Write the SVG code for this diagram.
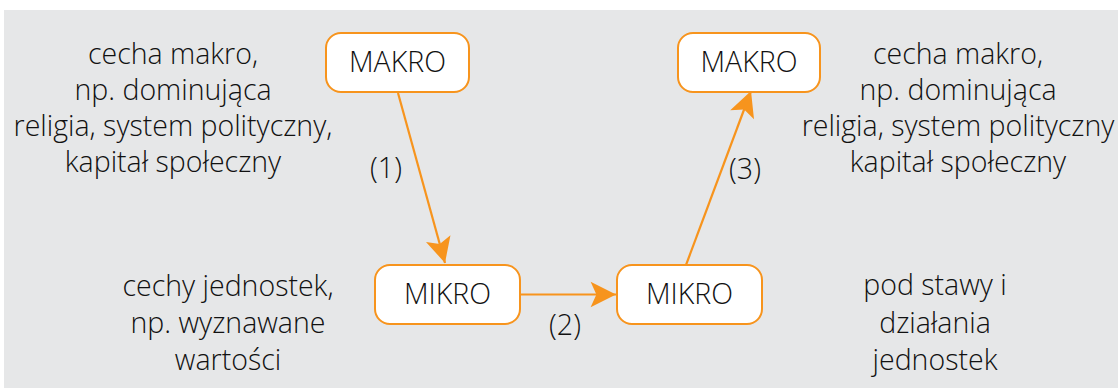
<svg xmlns="http://www.w3.org/2000/svg" width="1118" height="388" viewBox="0 0 1118 388">
<style>
.t{font-family:"Open Sans","Liberation Sans",sans-serif;font-weight:300;font-size:28.5px;fill:#111;text-anchor:middle}
.box{fill:#fff;stroke:#f7941d;stroke-width:2}
.c{stroke:#f7941d;stroke-width:2.2;fill:none}
</style>
<defs>
<marker id="ah" markerUnits="userSpaceOnUse" markerWidth="30" markerHeight="30" viewBox="-24 -12 26 24" refX="0" refY="0" orient="auto">
<path d="M0,0 L-22,-11 L-17,0 L-22,11 Z" fill="#f7941d"/>
</marker>
</defs>
<rect x="4" y="10" width="1114" height="378" fill="#e6e7e8"/>
<g id="connectors">
<line class="c" x1="398" y1="93" x2="445" y2="263" marker-end="url(#ah)"/>
<line class="c" x1="521" y1="294.5" x2="616" y2="294.5" marker-end="url(#ah)"/>
<line class="c" x1="686" y1="265" x2="751" y2="91" marker-end="url(#ah)"/>
</g>
<g id="makro1"><rect class="box" x="326" y="33" width="143" height="59" rx="15"/><text class="t" x="397.5" y="72">MAKRO</text></g>
<g id="makro2"><rect class="box" x="678" y="33" width="142" height="59" rx="15"/><text class="t" x="749" y="72">MAKRO</text></g>
<g id="mikro1"><rect class="box" x="375" y="265" width="145" height="59" rx="15"/><text class="t" x="447.5" y="304">MIKRO</text></g>
<g id="mikro2"><rect class="box" x="617" y="265" width="145" height="59" rx="15"/><text class="t" x="689.5" y="304">MIKRO</text></g>
<g id="label1"><text class="t" x="386" y="178">(1)</text></g>
<g id="label2"><text class="t" x="565" y="335">(2)</text></g>
<g id="label3"><text class="t" x="745" y="179">(3)</text></g>
<g id="desc-makro1"><text class="t" x="173" y="64">cecha makro,</text><text class="t" x="173" y="100">np. dominująca</text><text class="t" x="173" y="136">religia, system polityczny,</text><text class="t" x="173" y="172">kapitał społeczny</text></g>
<g id="desc-makro2"><text class="t" x="958" y="64">cecha makro,</text><text class="t" x="958" y="100">np. dominująca</text><text class="t" x="958" y="136">religia, system polityczny</text><text class="t" x="958" y="172">kapitał społeczny</text></g>
<g id="desc-mikro1"><text class="t" x="228" y="296">cechy jednostek,</text><text class="t" x="228" y="333">np. wyznawane</text><text class="t" x="228" y="370">wartości</text></g>
<g id="desc-mikro2"><text class="t" x="935" y="295">pod stawy i</text><text class="t" x="935" y="333">działania</text><text class="t" x="935" y="370">jednostek</text></g>
</svg>
